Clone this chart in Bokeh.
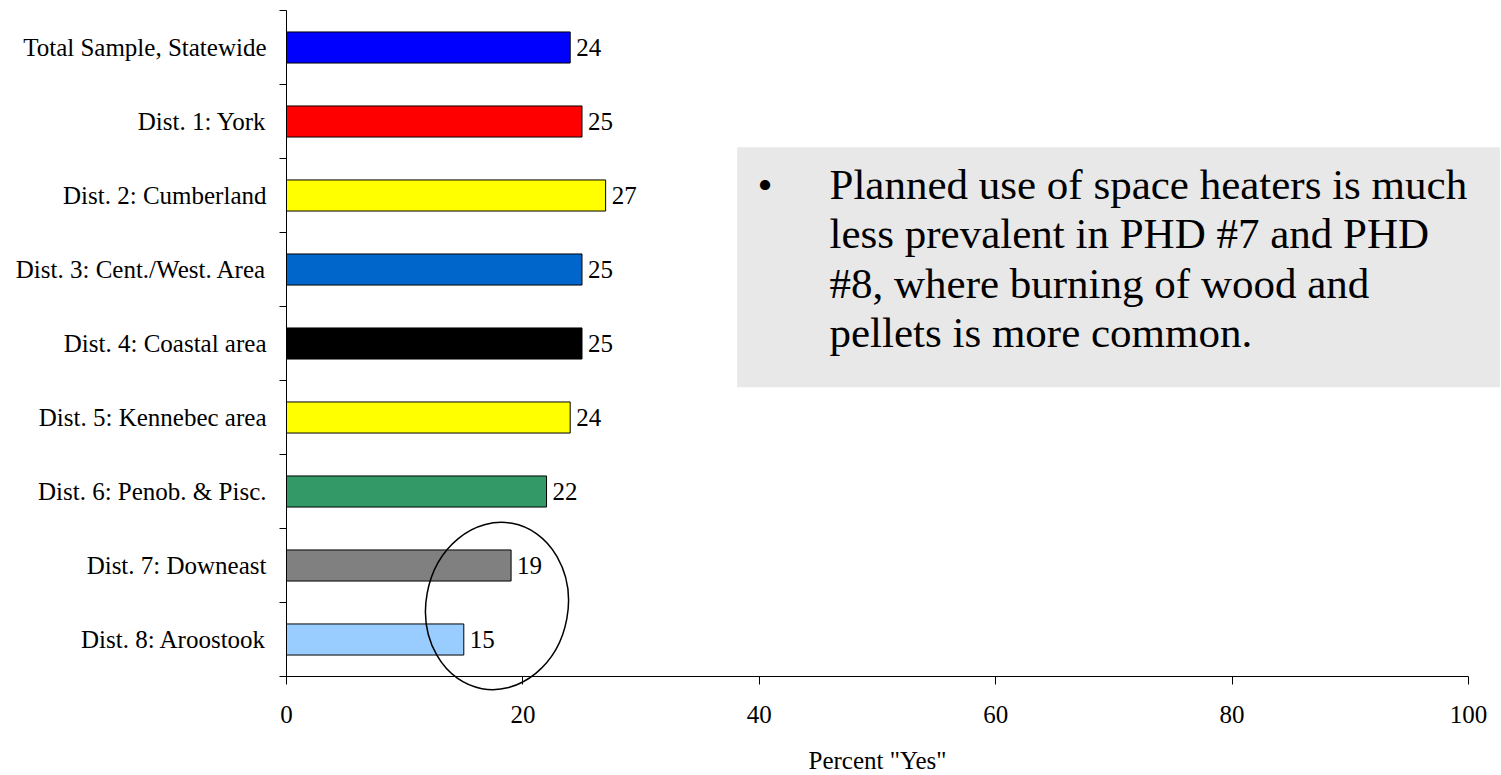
from bokeh.plotting import figure
from bokeh.models import Range1d, FixedTicker, BoxAnnotation, Label, ColumnDataSource
from bokeh.core.properties import value
from bokeh.embed import file_html
from bokeh.resources import INLINE

# ---------------- data ----------------
categories = [
    "Total Sample, Statewide",
    "Dist. 1: York",
    "Dist. 2: Cumberland",
    "Dist. 3: Cent./West. Area",
    "Dist. 4: Coastal area",
    "Dist. 5: Kennebec area",
    "Dist. 6: Penob. & Pisc.",
    "Dist. 7: Downeast",
    "Dist. 8: Aroostook",
]
percent_yes = [24, 25, 27, 25, 25, 24, 22, 19, 15]
bar_colors = ["#0000FF", "#FF0000", "#FFFF00", "#0066CC", "#000000",
              "#FFFF00", "#339966", "#808080", "#99CCFF"]
x_ticks = [0, 20, 40, 60, 80, 100]
x_title = 'Percent "Yes"'
note_lines = [
    "Planned use of space heaters is much",
    "less prevalent in PHD #7 and PHD",
    "#8, where burning of wood and",
    "pellets is more common.",
]

# ---------------- layout ----------------
FONT = "Liberation Serif"
W, H = 1500, 774
AXIS_X = 286             # pixel column of the y axis line (x = 0)
TOP = 10                 # pixel row of the top of the y axis
AXIS_Y = 676             # pixel row of the x axis line (y = 0)
n = len(categories)
PX_X = 11.82             # pixels per percent
BAND = (AXIS_Y - TOP) / n  # pixels per category band

x_start = -AXIS_X / PX_X
x_end = (W - AXIS_X) / PX_X
y_end = n + TOP / BAND
y_start = -(H - AXIS_Y) / BAND

p = figure(width=W, height=H,
           x_range=Range1d(x_start, x_end), y_range=Range1d(y_start, y_end),
           output_backend="svg", toolbar_location=None,
           min_border_left=0, min_border_right=0,
           min_border_top=0, min_border_bottom=0)
p.outline_line_color = None
p.xgrid.visible = False
p.ygrid.visible = False
p.background_fill_color = "white"
p.border_fill_color = "white"


def y_px(img_y):
    return (AXIS_Y - img_y) / BAND


def x_px(img_x):
    return (img_x - AXIS_X) / PX_X


# Bokeh Labels with "alphabetic" baseline sit ~0.33 em lower than asked
def baseline_y(img_y, font_px):
    return y_px(img_y - 0.33 * font_px)


ys = [n - 0.5 - i for i in range(n)]
src = ColumnDataSource(dict(
    y=ys, v=percent_yes, color=bar_colors,
    label=[str(v) for v in percent_yes],
))

# grey note box
box = BoxAnnotation(left=x_px(736.7), right=x_end, bottom=y_px(386.7), top=y_px(146.7),
                    fill_color="#E8E8E8", fill_alpha=1.0, line_color=None, level="underlay")
p.add_layout(box)

p.hbar(y="y", left=0, right="v", height=0.42, fill_color="color",
       line_color="black", line_width=1, source=src)

p.text(x="v", y="y", text="label", x_offset=6, text_baseline="middle", text_align="left",
       text_font=value(FONT), text_font_size="25px", text_color="black", source=src)

# highlight ellipse around districts 7 and 8
p.ellipse(x=x_px(496.5), y=y_px(605.5), width=142, height=168,
          width_units="screen", height_units="screen", angle=-0.18,
          fill_color=None, line_color="black", line_width=1.5)

# x axis
xa = p.xaxis[0]
xa.ticker = FixedTicker(ticks=x_ticks)
xa.bounds = (0, 100)
xa.fixed_location = 0
xa.axis_line_color = "black"
xa.axis_line_width = 1
xa.major_tick_out = 8
xa.major_tick_in = 0
xa.minor_tick_out = 0
xa.minor_tick_in = 0
xa.major_tick_line_color = "black"
xa.major_label_standoff = 21
xa.major_label_text_font = FONT
xa.major_label_text_font_size = "25px"
xa.major_label_text_color = "black"

# y axis
ya = p.yaxis[0]
ya.ticker = FixedTicker(ticks=ys, minor_ticks=list(range(n + 1)))
ya.bounds = (0, n)
ya.fixed_location = 0
ya.axis_line_color = "black"
ya.axis_line_width = 1
ya.major_tick_out = 0
ya.major_tick_in = 0
ya.major_tick_line_color = None
ya.minor_tick_out = 7
ya.minor_tick_in = 0
ya.minor_tick_line_color = "black"
ya.major_label_overrides = {y: c for y, c in zip(ys, categories)}
ya.major_label_standoff = 13
ya.major_label_text_font = FONT
ya.major_label_text_font_size = "25px"
ya.major_label_text_color = "black"

# x axis title
p.add_layout(Label(x=50, y=baseline_y(768, 25), text=x_title, text_align="center",
                   text_baseline="alphabetic", text_font=FONT,
                   text_font_size="25px", text_color="black"))

# note text
p.add_layout(Label(x=x_px(757), y=baseline_y(198, 43), text="\u2022", text_align="left",
                   text_baseline="alphabetic", text_font=FONT,
                   text_font_size="43px", text_color="black"))
for k, line in enumerate(note_lines):
    p.add_layout(Label(x=x_px(829), y=baseline_y(198 + 49.5 * k, 43), text=line,
                       text_align="left", text_baseline="alphabetic", text_font=FONT,
                       text_font_size="43px", text_color="black"))

open("out.html", "w").write(file_html(p, INLINE))
